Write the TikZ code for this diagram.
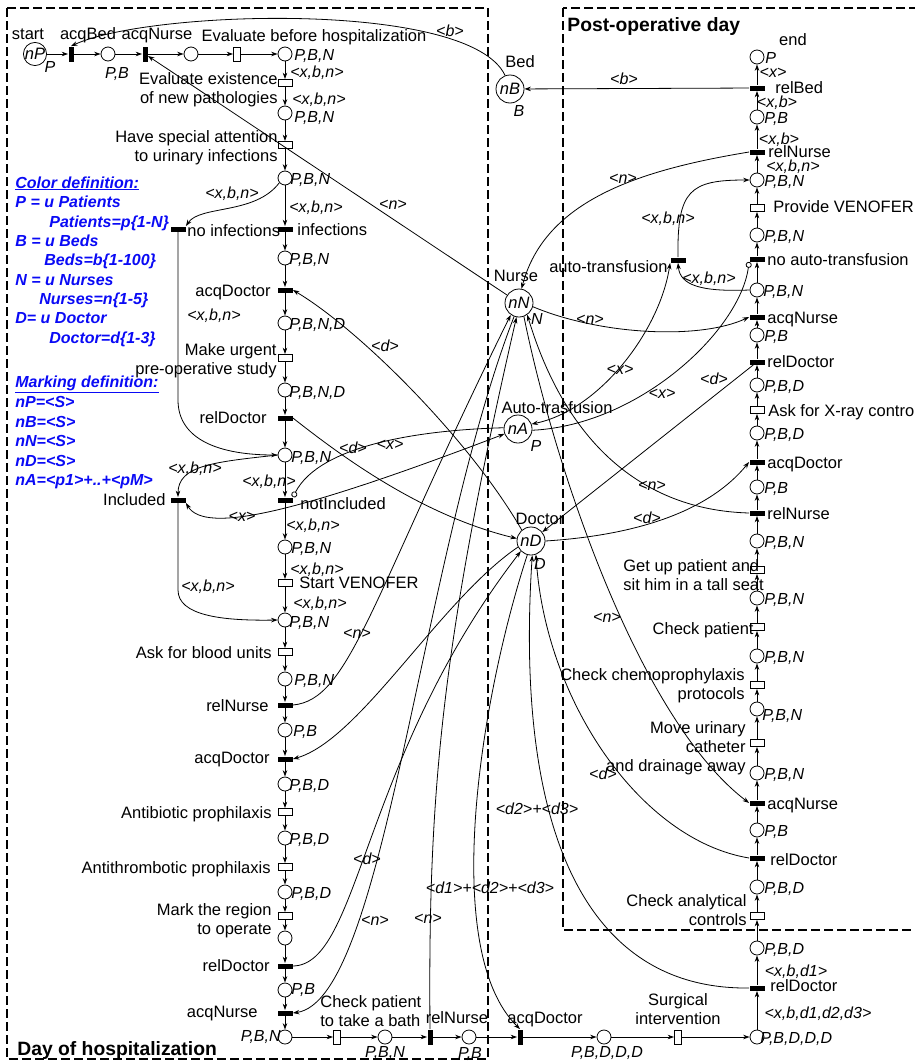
\documentclass[tikz,border=0pt]{standalone}
\usepackage{fontspec}
\setmainfont{Liberation Sans}
\usetikzlibrary{arrows.meta}
\definecolor{defblue}{RGB}{10,10,245}
\begin{document}
\begin{tikzpicture}[x=1pt,y=-1pt,line width=0.8pt,
  >={Stealth[length=6.5pt,width=4.5pt]},
  place/.style={circle,draw,minimum size=14pt,inner sep=0pt},
  res/.style={circle,draw,minimum size=28pt,inner sep=0pt,font=\fontsize{16.5}{19}\selectfont\itshape},
  imm/.style={rectangle,fill=black,minimum width=15pt,minimum height=5pt,inner sep=0pt},
  immv/.style={rectangle,fill=black,minimum width=5pt,minimum height=15pt,inner sep=0pt},
  timed/.style={rectangle,draw,fill=white,minimum width=14pt,minimum height=7pt,inner sep=0pt},
  timedv/.style={rectangle,draw,fill=white,minimum width=7pt,minimum height=14pt,inner sep=0pt},
  txt/.style={inner sep=0pt,font=\fontsize{16.5}{19}\selectfont,text height=12pt,text depth=0pt},
  mtxt/.style={inner sep=0pt,font=\fontsize{16.5}{19}\selectfont},
  lab/.style={inner sep=0pt,font=\fontsize{16}{19}\selectfont\itshape,text height=12pt,text depth=0pt},
  def/.style={inner sep=0pt,anchor=west,text=defblue,font=\fontsize{16}{19}\selectfont\bfseries\itshape,text height=12pt,text depth=0pt},
  zone/.style={dash pattern=on 9pt off 4pt,line width=1.5pt},
  title/.style={inner sep=0pt,anchor=west,font=\fontsize{19.3}{22}\selectfont\bfseries,text height=14pt,text depth=0pt},
  arc/.style={->},
  inh/.style={-{Circle[open,length=6pt,width=6pt]}}
]
\useasboundingbox (0,0) rectangle (915,1063);

% zones
\draw[zone] (7,8) rectangle (488,1059);
\draw[zone] (563,8) rectangle (930,930);
\node[title] (zoneA) at (17,1048) {Day of hospitalization};
\node[title] (zoneB) at (567,24) {Post-operative day};

% resources
\node[res] (nB) at (510,89) {nB};
\node[res] (nN) at (519,303) {nN};
\node[res] (nA) at (518,429) {nA};
\node[res] (nD) at (531,541) {nD};

% top row
\node[res,minimum size=20pt] (nP) at (35,54) {nP};
\node[immv] (tAcqBed) at (71,54) {};
\node[place] (pPB) at (108,54) {};
\node[immv] (tAcqNurse0) at (145,54) {};
\node[place] (pW) at (191,54) {};
\node[timedv] (tEval) at (237,54) {};
\node[place] (p3) at (285,54) {};

% day of hospitalization column
\node[timed] (tEvalEx) at (285,83) {};
\node[place] (p4) at (285,113) {};
\node[timed] (tUrin) at (285,145) {};
\node[place] (p5) at (285,178) {};
\node[imm] (tInf) at (285,229) {};
\node[imm] (tNoInf) at (178,229) {};
\node[place] (p6) at (285,258) {};
\node[imm] (tAcqDoc1) at (285,290) {};
\node[place] (p7) at (285,323) {};
\node[timed] (tUrgent) at (285,358) {};
\node[place] (p8) at (285,390) {};
\node[imm] (tRelDoc1) at (285,418) {};
\node[place] (p9) at (285,455) {};
\node[imm] (tNotIncl) at (285,500) {};
\node[imm] (tIncl) at (178,500) {};
\node[place] (p10) at (285,547) {};
\node[timed] (tStartV) at (285,583) {};
\node[place] (p11) at (285,620) {};
\node[timed] (tBlood) at (285,652) {};
\node[place] (p12) at (285,679) {};
\node[imm] (tRelNurse1) at (285,705) {};
\node[place] (p13) at (285,730) {};
\node[imm] (tAcqDoc2) at (285,759) {};
\node[place] (p14) at (285,784) {};
\node[timed] (tAntibio) at (285,812) {};
\node[place] (p15) at (285,838) {};
\node[timed] (tAntithr) at (285,867) {};
\node[place] (p16) at (285,892) {};
\node[timed] (tMark) at (285,916) {};
\node[place] (p17) at (285,938) {};
\node[imm] (tRelDoc2) at (285,966) {};
\node[place] (p18) at (285,990) {};
\node[imm] (tAcqNurse2) at (285,1013) {};
\node[place] (p19) at (285,1037) {};

% bottom row
\node[timedv] (tBath) at (337,1037) {};
\node[place] (p20) at (385,1037) {};
\node[immv] (tRelNurse2) at (430,1037) {};
\node[place] (p21) at (469,1037) {};
\node[immv] (tAcqDoc3) at (520,1037) {};
\node[place] (p22) at (604,1037) {};
\node[timedv] (tSurg) at (678,1037) {};
\node[place] (p23) at (757,1037) {};

% post-operative column
\node[imm] (tRelDoc5) at (757,988) {};
\node[place] (p24) at (757,948) {};
\node[timed] (tCheckAn) at (757,916) {};
\node[place] (p25) at (757,887) {};
\node[imm] (tRelDoc4) at (757,858) {};
\node[place] (p26) at (757,830) {};
\node[imm] (tAcqNurse4) at (757,803) {};
\node[place] (p27) at (757,773) {};
\node[timed] (tMove) at (757,743) {};
\node[place] (p28) at (757,709) {};
\node[timed] (tChemo) at (757,685) {};
\node[place] (p29) at (757,656) {};
\node[timed] (tCheckP) at (757,627) {};
\node[place] (p30) at (757,598) {};
\node[timed] (tGetUp) at (757,570) {};
\node[place] (p31) at (757,541) {};
\node[imm] (tRelNurse4) at (757,513) {};
\node[place] (p32) at (757,487) {};
\node[imm] (tAcqDoc4) at (757,462) {};
\node[place] (p33) at (757,433) {};
\node[timed] (tXray) at (757,410) {};
\node[place] (p34) at (757,385) {};
\node[imm] (tRelDoc3) at (757,362) {};
\node[place] (p35) at (757,335) {};
\node[imm] (tAcqNurse3) at (757,317) {};
\node[place] (p36) at (757,290) {};
\node[imm] (tNoAuto) at (757,259) {};
\node[imm] (tAuto) at (678,260) {};
\node[place] (p37) at (757,235) {};
\node[timed] (tVenofer) at (757,208) {};
\node[place] (p38) at (757,180) {};
\node[imm] (tRelNurse3) at (757,152) {};
\node[place] (p39) at (757,117) {};
\node[imm] (tRelBed) at (757,88) {};
\node[place] (pEnd) at (757,57) {};

% patient flow
\foreach \a/\b in {nP/tAcqBed,tAcqBed/pPB,pPB/tAcqNurse0,tAcqNurse0/pW,pW/tEval,tEval/p3,
  p3/tEvalEx,tEvalEx/p4,p4/tUrin,tUrin/p5,p5/tInf,tInf/p6,p6/tAcqDoc1,tAcqDoc1/p7,p7/tUrgent,
  tUrgent/p8,p8/tRelDoc1,tRelDoc1/p9,p9/tNotIncl,tNotIncl/p10,p10/tStartV,tStartV/p11,
  p11/tBlood,tBlood/p12,p12/tRelNurse1,tRelNurse1/p13,p13/tAcqDoc2,tAcqDoc2/p14,p14/tAntibio,
  tAntibio/p15,p15/tAntithr,tAntithr/p16,p16/tMark,tMark/p17,p17/tRelDoc2,tRelDoc2/p18,
  p18/tAcqNurse2,tAcqNurse2/p19,p19/tBath,tBath/p20,p20/tRelNurse2,tRelNurse2/p21,
  p21/tAcqDoc3,tAcqDoc3/p22,p22/tSurg,tSurg/p23,p23/tRelDoc5,tRelDoc5/p24,p24/tCheckAn,
  tCheckAn/p25,p25/tRelDoc4,tRelDoc4/p26,p26/tAcqNurse4,tAcqNurse4/p27,p27/tMove,tMove/p28,
  p28/tChemo,tChemo/p29,p29/tCheckP,tCheckP/p30,p30/tGetUp,tGetUp/p31,p31/tRelNurse4,
  tRelNurse4/p32,p32/tAcqDoc4,tAcqDoc4/p33,p33/tXray,tXray/p34,p34/tRelDoc3,tRelDoc3/p35,
  p35/tAcqNurse3,tAcqNurse3/p36,p36/tNoAuto,tNoAuto/p37,p37/tVenofer,tVenofer/p38,
  p38/tRelNurse3,tRelNurse3/p39,p39/tRelBed,tRelBed/pEnd}
  \draw[arc] (\a) -- (\b);

% branches of the patient flow
\draw[arc] (p5.220) .. controls (255,215) and (200,205) .. (tNoInf.north east);
\draw[arc] (tNoInf.south) -- (178,400) .. controls (178,440) and (220,455) .. (p9.west);
\draw[arc] (p9.west) .. controls (215,462) and (178,465) .. (tIncl.north);
\draw[arc] (tIncl.south) -- (178,590) .. controls (178,615) and (220,621) .. (p11.west);
\draw[arc] (tAuto.north) .. controls (677,190) and (690,180) .. (p38.west);
\draw[arc] (p36.west) .. controls (700,292) and (680,285) .. (tAuto.south);

% bed
\draw[arc] (nB.110) .. controls (470,0) and (150,10) .. (tAcqBed.north);
\draw[arc] (tRelBed) -- (nB);

% nurses
\draw[arc] (nN) -- (tAcqNurse0);
\draw[arc] (tRelNurse3.west) .. controls (640,170) and (545,200) .. (nN.80);
\draw[arc] (nN.-15) .. controls (600,335) and (700,340) .. (tAcqNurse3.west);
\draw[arc] (tRelNurse1.east) .. controls (350,700) and (370,600) .. (nN.235);
\draw[arc] (nN.250) .. controls (420,560) and (385,1000) .. (tAcqNurse2.east);
\draw[arc] (tRelNurse2.north) .. controls (428,800) and (440,650) .. (nN.260);
\draw[arc] (nN.290) .. controls (555,470) and (640,720) .. (tAcqNurse4.west);
\draw[arc] (tRelNurse4.west) .. controls (640,510) and (565,440) .. (nN.305);

% auto-transfusion
\draw[<->] (nA.20) .. controls (600,410) and (660,330) .. (tAuto.south west);
\draw[inh] (nA.-5) .. controls (640,425) and (740,330) .. (tNoAuto.south west);
\draw[inh] (nA.175) .. controls (420,430) and (320,445) .. (tNotIncl.north east);
\draw[<->] (tIncl.south east) .. controls (205,535) and (300,512) .. (nA.200);

% doctors
\draw[arc] (tRelDoc1.east) .. controls (340,455) and (420,515) .. (nD.170);
\draw[arc] (nD.130) .. controls (470,440) and (360,330) .. (tAcqDoc1.east);
\draw[arc] (nD.205) .. controls (440,600) and (360,740) .. (tAcqDoc2.east);
\draw[arc] (tRelDoc2.east) .. controls (360,965) and (360,760) .. (nD.225);
\draw[arc] (nD.255) .. controls (480,700) and (440,950) .. (tAcqDoc3.north);
\draw[arc] (tRelDoc5.west) .. controls (580,990) and (515,820) .. (nD.275);
\draw[arc] (tRelDoc4.west) .. controls (640,840) and (545,700) .. (nD.290);
\draw[arc] (nD.east) .. controls (640,535) and (710,510) .. (tAcqDoc4.west);
\draw[arc] (tRelDoc3) -- (nD);

% resource names and colour domains
\node[txt] (lBed) at (520,61) {Bed};
\node[lab] (cBed) at (519,110) {B};
\node[txt] (lNurse) at (516,275) {Nurse};
\node[lab] (cNurse) at (537,318) {N};
\node[txt] (lAuto) at (557,407) {Auto-trasfusion};
\node[lab] (cAuto) at (536,445) {P};
\node[txt] (lDoctor) at (540,518) {Doctor};
\node[lab] (cDoctor) at (540,563) {D};
\node[txt] (lStart) at (28,33) {start};
\node[lab] (cStart) at (50,66) {P};
\node[txt] (lEnd) at (793,39) {end};

% place colour domains
\foreach \x/\y/\t [count=\i] in {294/54/{P,B,N},294/116/{P,B,N},290/178/{P,B,N},289/258/{P,B,N},
  289/323/{P,B,N,D},289/391/{P,B,N,D},291/456/{P,B,N},291/547/{P,B,N},289/621/{P,B,N},
  294/679/{P,B,N},293/730/{P,B},289/784/{P,B,D},289/838/{P,B,D},291/892/{P,B,D},291/988/{P,B},
  765/57/{P},764/117/{P,B},764/180/{P,B,N},764/235/{P,B,N},763/290/{P,B,N},764/335/{P,B},
  764/385/{P,B,D},764/433/{P,B,D},764/487/{P,B},764/541/{P,B,N},764/598/{P,B,N},764/656/{P,B,N},
  762/714/{P,B,N},764/773/{P,B,N},764/830/{P,B},764/887/{P,B,D},764/948/{P,B,D},760/1037/{P,B,D,D,D}}
  \node[lab,anchor=west] (cd\i) at (\x,\y) {\t};
\foreach \x/\y/\t [count=\i] in {117/72/{P,B},385/1051/{P,B,N},470/1052/{P,B},607/1051/{P,B,D,D,D}}
  \node[lab] (cc\i) at (\x,\y) {\t};
\node[lab,anchor=east] (cLast) at (281,1035) {P,B,N};

% transition names
\node[txt] (nAcqBed) at (88,33) {acqBed};
\node[txt] (nAcqNurse0) at (157,33) {acqNurse};
\node[txt] (nEval) at (314,35) {Evaluate before hospitalization};
\node[mtxt,anchor=east,align=right] (nEvalEx) at (278,90) {Evaluate existence\\of new pathologies};
\node[mtxt,anchor=east,align=right] (nUrin) at (278,148) {Have special attention\\to urinary infections};
\node[txt,anchor=west] (nNoInf) at (187,230) {no infections};
\node[txt,anchor=west] (nInf) at (297,229) {infections};
\node[txt,anchor=east] (nAcqDoc1) at (271,290) {acqDoctor};
\node[mtxt,anchor=east,align=right] (nUrgent) at (277,361) {Make urgent\\pre-operative study};
\node[txt,anchor=east] (nRelDoc1) at (267,417) {relDoctor};
\node[txt,anchor=east] (nIncl) at (166,499) {Included};
\node[txt,anchor=west] (nNotIncl) at (300,503) {notIncluded};
\node[txt,anchor=west] (nStartV) at (299,582) {Start VENOFER};
\node[txt,anchor=east] (nBlood) at (272,652) {Ask for blood units};
\node[txt,anchor=east] (nRelNurse1) at (269,705) {relNurse};
\node[txt,anchor=east] (nAcqDoc2) at (270,757) {acqDoctor};
\node[txt,anchor=east] (nAntibio) at (272,812) {Antibiotic prophilaxis};
\node[txt,anchor=east] (nAntithr) at (271,867) {Antithrombotic prophilaxis};
\node[mtxt,anchor=east,align=right] (nMark) at (272,921) {Mark the region\\to operate};
\node[txt,anchor=east] (nRelDoc2) at (270,965) {relDoctor};
\node[txt,anchor=east] (nAcqNurse2) at (258,1011) {acqNurse};
\node[mtxt,anchor=west,align=left] (nBath) at (320,1011) {Check patient\\to take a bath};
\node[txt] (nRelNurse2) at (457,1017) {relNurse};
\node[txt] (nAcqDoc3) at (545,1017) {acqDoctor};
\node[mtxt,align=center] (nSurg) at (678,1009) {Surgical\\intervention};
\node[txt,anchor=west] (nRelBed) at (775,87) {relBed};
\node[txt,anchor=west] (nRelNurse3) at (768,151) {relNurse};
\node[txt,anchor=west] (nVenofer) at (773,206) {Provide VENOFER};
\node[txt,anchor=west] (nNoAuto) at (767,259) {no auto-transfusion};
\node[txt,anchor=east] (nAuto) at (668,266) {auto-transfusion};
\node[txt,anchor=west] (nAcqNurse3) at (767,317) {acqNurse};
\node[txt,anchor=west] (nRelDoc3) at (767,361) {relDoctor};
\node[txt,anchor=west] (nXray) at (768,410) {Ask for X-ray control};
\node[txt,anchor=west] (nAcqDoc4) at (767,462) {acqDoctor};
\node[txt,anchor=west] (nRelNurse4) at (767,513) {relNurse};
\node[mtxt,anchor=west,align=left] (nGetUp) at (623,575) {Get up patient and\\sit him in a tall seat};
\node[txt,anchor=east] (nCheckP) at (754,628) {Check patient};
\node[mtxt,anchor=east,align=right] (nChemo) at (745,686) {Check chemoprophylaxis\\protocols};
\node[mtxt,anchor=east,align=right] (nMove) at (746,748) {Move urinary\\catheter\\and drainage away};
\node[txt,anchor=west] (nAcqNurse4) at (767,803) {acqNurse};
\node[txt,anchor=west] (nRelDoc4) at (770,859) {relDoctor};
\node[mtxt,anchor=east,align=right] (nCheckAn) at (747,910) {Check analytical\\controls};
\node[txt,anchor=west] (nRelDoc5) at (770,985) {relDoctor};

% arc inscriptions
\foreach \x/\y/\t [count=\i] in {317/71/{<x,b,n>},319/98/{<x,b,n>},232/192/{<x,b,n>},316/206/{<x,b,n>},
  393/203/{<n>},450/30/{<b>},214/314/{<x,b,n>},385/345/{<d>},353/447/{<d>},390/443/{<x>},
  195/467/{<x,b,n>},269/480/{<x,b,n>},242/515/{<x>},313/524/{<x,b,n>},317/568/{<x,b,n>},
  320/602/{<x,b,n>},208/585/{<x,b,n>},357/632/{<n>},367/858/{<d>},375/919/{<n>},428/917/{<n>},
  490/887/{<d1>+<d2>+<d3>},537/808/{<d2>+<d3>},603/773/{<d>},607/616/{<n>},647/517/{<d>},
  652/484/{<n>},620/368/{<x>},662/392/{<x>},714/378/{<d>},590/318/{<n>},709/277/{<x,b,n>},
  668/217/{<x,b,n>},623/177/{<n>},624/78/{<b>},773/71/{<x>},777/101/{<x,b>},779/138/{<x,b>},
  793/165/{<x,b,n>},796/970/{<x,b,d1>},818/1012/{<x,b,d1,d2,d3>}}
  \node[lab] (ai\i) at (\x,\y) {\t};

% colour and marking definitions
\node[def] (d1) at (15,182) {\underline{Color definition:}};
\node[def] (d2) at (15,201) {P = u Patients};
\node[def] (d3) at (49,221) {Patients=p\{1-N\}};
\node[def] (d4) at (15,240) {B = u Beds};
\node[def] (d5) at (44,259) {Beds=b\{1-100\}};
\node[def] (d6) at (15,279) {N = u Nurses};
\node[def] (d7) at (39,298) {Nurses=n\{1-5\}};
\node[def] (d8) at (15,317) {D= u Doctor};
\node[def] (d9) at (49,337) {Doctor=d\{1-3\}};
\node[def] (d10) at (15,381) {\underline{Marking definition:}};
\node[def] (d11) at (15,401) {nP=<S>};
\node[def] (d12) at (15,421) {nB=<S>};
\node[def] (d13) at (15,440) {nN=<S>};
\node[def] (d14) at (15,460) {nD=<S>};
\node[def] (d15) at (15,479) {nA=<p1>+..+<pM>};
\end{tikzpicture}
\end{document}
